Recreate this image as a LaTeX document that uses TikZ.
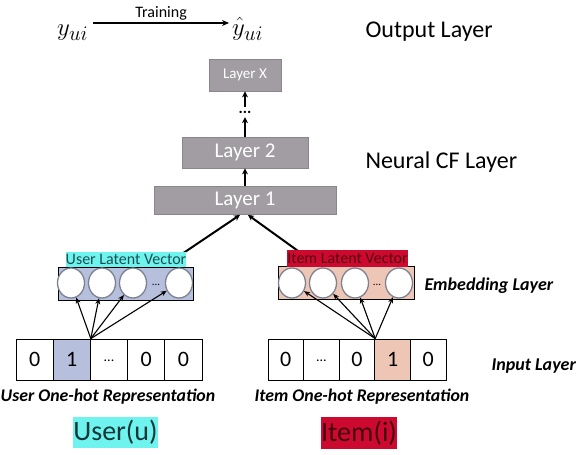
\documentclass[tikz,border=0pt]{standalone}
\usepackage{fontspec}
\setmainfont{Carlito}
\usetikzlibrary{arrows.meta,shapes.geometric}
\definecolor{aqua}{HTML}{6EF3EE}
\definecolor{crim}{HTML}{CC0A2F}
\definecolor{layergray}{HTML}{A19DA2}
\definecolor{layeredge}{HTML}{8A868C}
\definecolor{ublue}{HTML}{B6BFDC}
\definecolor{isalmon}{HTML}{EEC6B6}
\definecolor{circedge}{HTML}{7C8290}
\definecolor{tealtext}{HTML}{1E4F50}
\definecolor{redtext}{HTML}{5A0010}
\begin{document}
\begin{tikzpicture}[x=1pt,y=-1pt,
  layerbox/.style={draw=layeredge, line width=0.8pt, fill=layergray, text=white, inner sep=0pt},
  fatarrow/.style={line width=2pt, -{Stealth[length=6pt,width=6pt]}},
  thinarrow/.style={line width=1.1pt, -{Stealth[length=6pt,width=5pt]}},
  sidelabel/.style={anchor=west, font=\fontsize{24}{26}\selectfont},
  sidelabelbi/.style={anchor=west, font=\bfseries\itshape\fontsize{18}{20}\selectfont},
  embbox/.style={draw=black, line width=0.8pt, inner sep=0pt, minimum width=#1, minimum height=33},
  neuron/.style={ellipse, draw=circedge, line width=1.3pt, fill=white, minimum width=27, minimum height=30, inner sep=0pt},
  ucell/.style={draw=black, line width=0.8pt, minimum width=37.2, minimum height=41, inner sep=0pt, font=\fontsize{22}{24}\selectfont},
  icell/.style={draw=black, line width=0.8pt, minimum width=35.6, minimum height=41, inner sep=0pt, font=\fontsize{22}{24}\selectfont},
  celldots/.style={font=\fontsize{14}{14}\selectfont},
  smalldots/.style={inner sep=0pt, font=\fontsize{11}{12}\selectfont},
  replabel/.style={font=\bfseries\itshape\fontsize{17.8}{19}\selectfont},
  mathlabel/.style={anchor=base west, inner sep=0pt, font=\fontsize{29}{30}\selectfont},
]
\useasboundingbox (0,0) rectangle (579,455);
\fill[white] (0,0) rectangle (579,455);

% ---- output layer
\node[mathlabel] (y) at (57,35) {$y_{ui}$};
\node[mathlabel] (yh) at (232,35) {$\hat{y}_{ui}$};
\draw[line width=1.4pt, -{Stealth[length=7pt,width=6pt]}] ([xshift=5pt,yshift=12pt]y.base east) -- ([xshift=-3pt,yshift=12pt]yh.base west)
  node[midway, above=-1pt, font=\fontsize{16}{17}\selectfont] (train) {Training};
\node[sidelabel] (outl) at (362,32) {Output Layer};

% ---- neural CF layers
\node[layerbox, minimum width=72, minimum height=32, font=\fontsize{15}{16}\selectfont] (lx) at (245,75) {Layer X};
\node[inner sep=0pt, minimum height=10, minimum width=12, font=\bfseries\fontsize{16}{16}\selectfont] (dots) at (245,112) {...};
\node[layerbox, minimum width=126, minimum height=31, font=\fontsize{21}{22}\selectfont] (l2) at (245,152.5) {Layer 2};
\node[layerbox, minimum width=182, minimum height=28, font=\fontsize{21}{22}\selectfont] (l1) at (245,200.5) {Layer 1};
\draw[fatarrow] (dots.north) -- (lx.south);
\draw[fatarrow] (l2.north) -- (dots.south);
\draw[fatarrow] (l1.north) -- (l2.south);
\node[sidelabel] (ncf) at (362,162) {Neural CF Layer};

% ---- embedding layer
\coordinate (ustart) at (176,258);
\coordinate (istart) at (305,256);
\draw[fatarrow] (ustart) -- ([xshift=-5pt]l1.south);
\draw[fatarrow] (istart) -- ([xshift=3pt]l1.south);

\node[embbox=135, fill=ublue] (ubox) at (125.5,283.5) {};
\node[embbox=136, fill=isalmon] (ibox) at (346,283) {};
\node[fill=aqua, text=tealtext, inner sep=0pt, minimum width=118, minimum height=15, font=\fontsize{16}{16}\selectfont] (ulab) at (126,259.5) {User Latent Vector};
\node[fill=crim, text=redtext, inner sep=0pt, minimum width=115, minimum height=17, font=\fontsize{16}{16}\selectfont] (ilab) at (347.5,258.5) {Item Latent Vector};

\node[neuron] (uc1) at (71,283) {};
\node[neuron] (uc2) at (102,283) {};
\node[neuron] (uc3) at (133,283) {};
\node[neuron] (uc4) at (179,283) {};
\node[smalldots] (ud) at (156,285) {...};
\node[neuron] (ic1) at (292,283) {};
\node[neuron] (ic2) at (323,283) {};
\node[neuron] (ic3) at (355,283) {};
\node[neuron] (ic4) at (399,283) {};
\node[smalldots] (id) at (377,285) {...};
\node[sidelabelbi] (embl) at (421,286) {Embedding Layer};

% ---- input layer
\node[ucell] (u1) at (34.6,359.5) {0};
\node[ucell, fill=ublue] (u2) at (71.8,359.5) {1};
\node[ucell, celldots] (u3) at (109,359.5) {\raisebox{-4pt}{...}};
\node[ucell] (u4) at (146.2,359.5) {0};
\node[ucell] (u5) at (183.4,359.5) {0};
\node[icell] (i1) at (285.8,359.5) {0};
\node[icell, celldots] (i2) at (321.4,359.5) {\raisebox{-4pt}{...}};
\node[icell] (i3) at (357,359.5) {0};
\node[icell, fill=isalmon] (i4) at (392.6,359.5) {1};
\node[icell] (i5) at (428.2,359.5) {0};
\node[sidelabelbi] (inl) at (488,366) {Input Layer};

\foreach \c in {uc1,uc2,uc3,uc4} \draw[thinarrow] (u2.north east) -- (\c);
\foreach \c in {ic1,ic2,ic3,ic4} \draw[thinarrow] (i3.north east) -- (\c);

\node[replabel] (urep) at (108,397) {User One-hot Representation};
\node[replabel] (irep) at (362,397) {Item One-hot Representation};

\node[fill=aqua, text=tealtext!70!black, inner sep=0pt, minimum width=83, minimum height=31, font=\fontsize{28}{30}\selectfont] (user) at (115.5,432.5) {User(u)};
\node[fill=crim, text=redtext!80!black, inner sep=0pt, minimum width=74, minimum height=32, font=\fontsize{28}{30}\selectfont] (item) at (359,433) {Item(i)};
\end{tikzpicture}
\end{document}
